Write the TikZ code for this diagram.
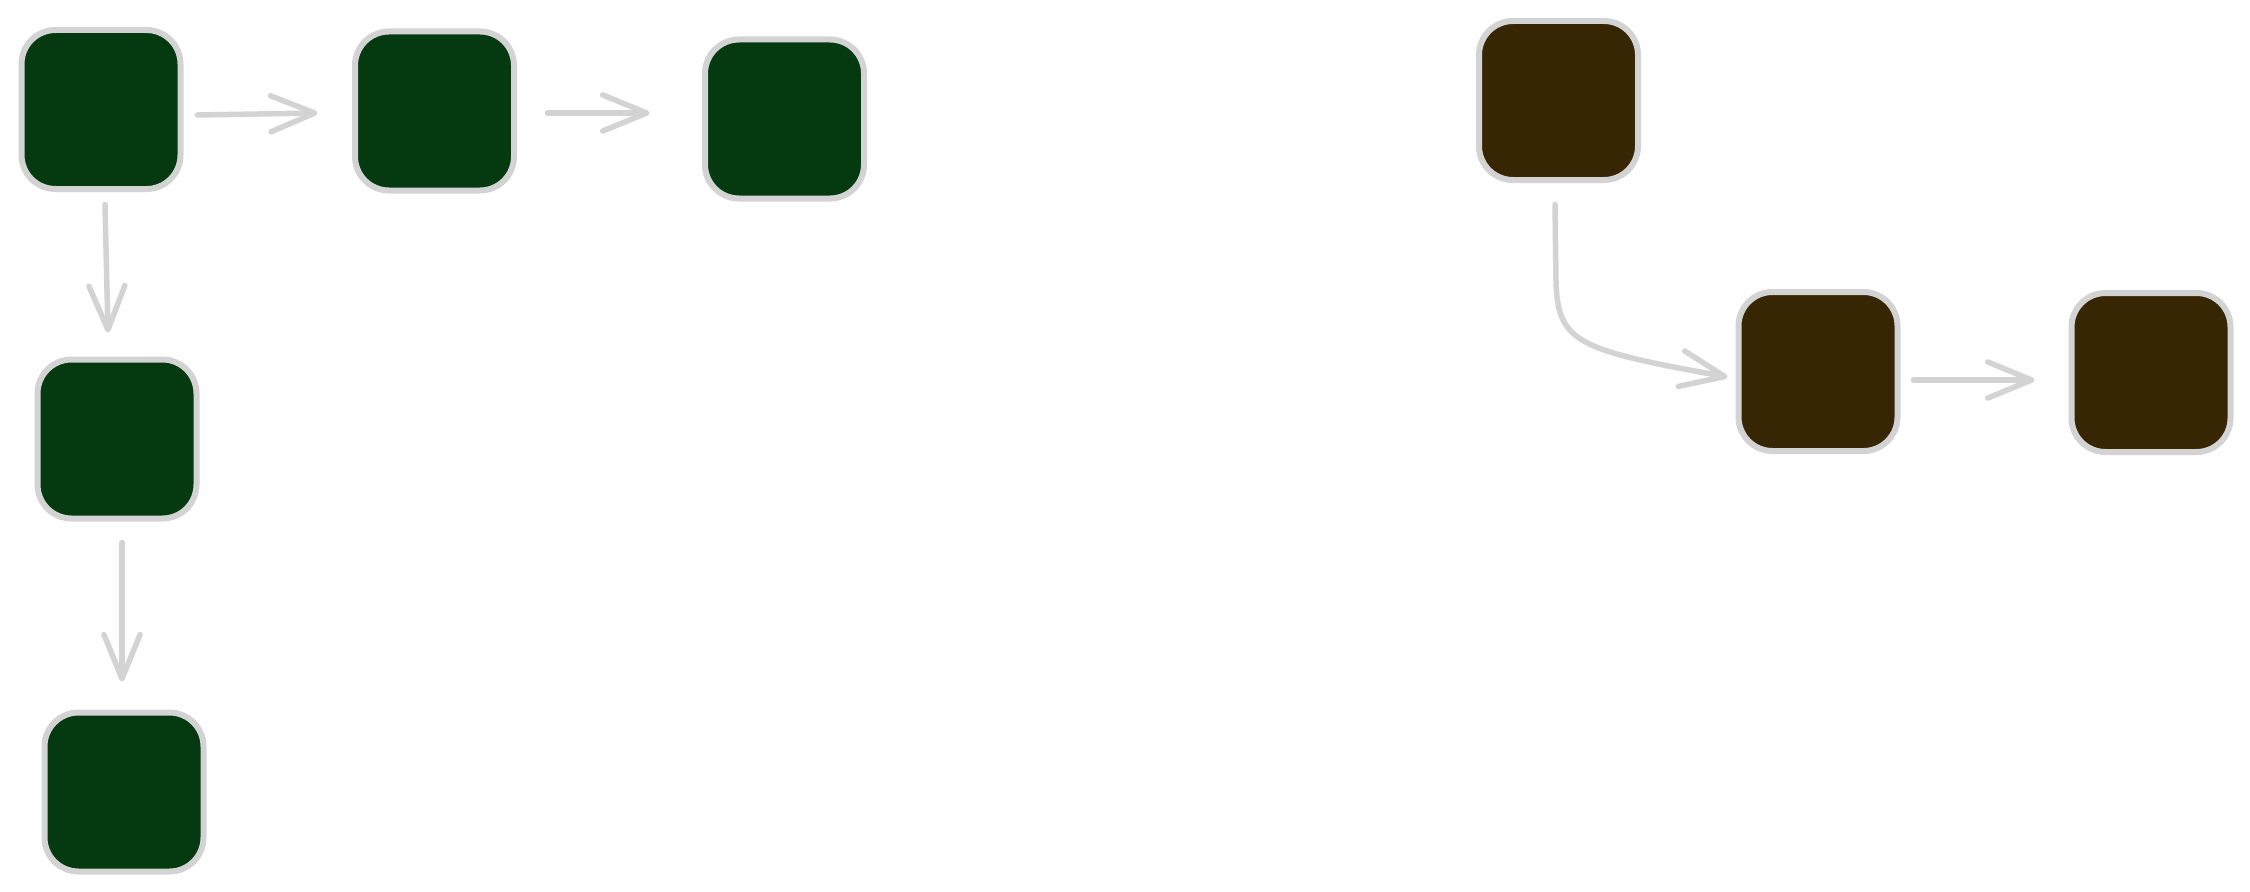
\documentclass[tikz,border=0pt]{standalone}
\usetikzlibrary{arrows.meta,calc}
\definecolor{boxgreen}{RGB}{5,58,17}
\definecolor{boxbrown}{RGB}{55,38,3}
\definecolor{edgegray}{RGB}{211,211,211}
\tikzset{
  card/.style={rectangle, rounded corners=34pt, minimum width=159pt, minimum height=159pt,
    inner sep=0pt, draw=edgegray, line width=6pt},
  gbox/.style={card, fill=boxgreen},
  bbox/.style={card, fill=boxbrown},
  conn/.style={draw=edgegray, line width=5.5pt, line cap=round,
    -{Straight Barb[length=44pt,width=36pt,round]}}
}
\begin{document}
\begin{tikzpicture}[x=1pt,y=-1pt]
\useasboundingbox (0,0) rectangle (2250,891);
\fill[white] (0,0) rectangle (2250,891);
\node[gbox] (A) at (101,109.5) {};
\node[gbox] (B) at (434.5,111) {};
\node[gbox] (C) at (784.5,119) {};
\node[gbox] (D) at (117,439) {};
\node[gbox] (E) at (124,792) {};
\node[bbox] (F) at (1558.5,100.5) {};
\node[bbox] (G) at (1818,371.5) {};
\node[bbox] (H) at (2151,372.5) {};
\draw[conn] ($(A.east)+(14,5.5)$) -- ($(B.west)+(-34.5,2)$);
\draw[conn] ($(B.east)+(30.5,2)$) -- ($(C.west)+(-52.5,-6)$);
\draw[conn] ($(A.south)+(4,12.5)$) -- ($(D.north)+(-9,-24)$);
\draw[conn] ($(D.south)+(5,21)$) -- ($(E.north)+(-2,-28)$);
\draw[conn] ($(F.south)+(-3.5,21.5)$) -- ($(F.south)+(-2.5,99.5)$)
  .. controls ($(F.south)+(-0.5,159.5)$) and ($(G.west)+(-158,-21.5)$) .. ($(G.west)+(-8,5.5)$);
\draw[conn] ($(G.east)+(13,8.5)$) -- ($(H.west)+(-34,7.5)$);
\end{tikzpicture}
\end{document}
